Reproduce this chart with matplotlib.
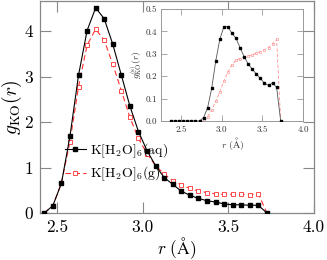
import numpy as np
import matplotlib
matplotlib.use("Agg")
import matplotlib.pyplot as plt

plt.rcParams['font.family'] = 'serif'
plt.rcParams['font.serif'] = ['cmr10', 'DejaVu Serif']
plt.rcParams['mathtext.fontset'] = 'cm'
plt.rcParams['axes.formatter.use_mathtext'] = True

# main panel data
r_main = [2.425, 2.475, 2.525, 2.575, 2.625, 2.675, 2.725, 2.775, 2.825, 2.875,
          2.925, 2.975, 3.025, 3.075, 3.125, 3.175, 3.225, 3.275, 3.325, 3.375,
          3.425, 3.475, 3.525, 3.575, 3.625, 3.675, 3.725]
g_aq = [0.0, 0.16, 0.65, 1.69, 3.03, 4.01, 4.51, 4.27, 3.71, 3.03,
        2.35, 1.79, 1.37, 1.04, 0.78, 0.63, 0.48, 0.39, 0.32, 0.27,
        0.24, 0.20, 0.18, 0.18, 0.17, 0.17, 0.0]
g_g = [0.0, 0.16, 0.66, 1.57, 2.78, 3.69, 4.04, 3.80, 3.27, 2.69,
       2.10, 1.64, 1.30, 1.04, 0.86, 0.71, 0.62, 0.54, 0.48, 0.45,
       0.42, 0.41, 0.41, 0.41, 0.40, 0.42, 0.0]

# inset data
r_in = [2.375, 2.425, 2.475, 2.525, 2.575, 2.625, 2.675, 2.725, 2.775, 2.825,
        2.875, 2.925, 2.975, 3.025, 3.075, 3.125, 3.175, 3.225, 3.275, 3.325,
        3.375, 3.425, 3.475, 3.525, 3.575, 3.625, 3.675, 3.725]
gs_aq = [0, 0, 0, 0, 0, 0, 0, 0, 0.015, 0.06,
         0.146, 0.269, 0.365, 0.421, 0.421, 0.391, 0.369, 0.327, 0.287, 0.254,
         0.231, 0.21, 0.19, 0.168, 0.159, 0.17, 0.15, 0.0]
gs_g = [0, 0, 0, 0, 0, 0, 0, 0, 0.005, 0.02,
        0.05, 0.088, 0.13, 0.178, 0.218, 0.252, 0.272, 0.279, 0.285, 0.29,
        0.296, 0.302, 0.31, 0.318, 0.328, 0.345, 0.365, 0.0]

labels = [r'$\mathrm{K[H_2O]_6(aq)}$', r'$\mathrm{K[H_2O]_6(g)}$']
red = '#ff3030'
grey = '#888888'

fig = plt.figure(figsize=(3.27, 2.60), dpi=100)
ax = fig.add_axes([40/327, 1-213/260, (314-40)/327, (213-1)/260])
ax.plot(r_main, g_aq, '-', color='black', lw=0.8, marker='s', ms=2.8,
        mfc='black', mec='black', label=labels[0], zorder=3)
ax.plot(r_main, g_g, '--', color=red, lw=0.8, dashes=(5, 3), marker='s', ms=3.0,
        mfc='white', mec=red, mew=0.6, label=labels[1], zorder=2)
ax.set_xlim(2.4, 4.0)
ax.set_ylim(0, 4.66)
ax.set_xticks([2.5, 3.0, 3.5, 4.0])
ax.set_xticklabels(['2.5', '3.0', '3.5', '4.0'])
ax.set_yticks([0, 1, 2, 3, 4])
ax.set_yticklabels(['0', '1', '2', '3', '4'])
ax.tick_params(direction='in', top=True, right=True, length=8, width=0.8,
               color=grey, labelsize=12.5, pad=5)
for s in ax.spines.values():
    s.set_color(grey)
    s.set_linewidth(0.9)
ax.set_xlabel(r'$r\ (\mathrm{\AA})$', fontsize=12.5, labelpad=0)
ax.set_ylabel(r'$g_{\mathrm{KO}}(r)$', fontsize=14, labelpad=0)
ax.legend(loc='lower left', bbox_to_anchor=(0.06, 0.10), frameon=False,
          fontsize=10, handlelength=1.5, handletextpad=0.35, labelspacing=0.35,
          borderaxespad=0.2)

ins = fig.add_axes([161/327, 1-121/260, (303-161)/327, (121-9)/260])
ins.plot(r_in, gs_aq, '-', color='#555555', lw=0.6, marker='s', ms=1.6,
         mfc='black', mec='black', zorder=3)
ins.plot(r_in, gs_g, '--', color='#ff9090', lw=0.6, dashes=(4, 2.5), marker='s',
         ms=1.8, mfc='white', mec='#ff8080', mew=0.4, zorder=2)
ins.set_xlim(2.25, 4.0)
ins.set_ylim(0, 0.5)
ins.set_xticks([2.5, 3.0, 3.5, 4.0])
ins.set_xticklabels(['2.5', '3.0', '3.5', '4.0'])
ins.set_yticks([0.0, 0.1, 0.2, 0.3, 0.4, 0.5])
ins.set_yticklabels(['0.0', '0.1', '0.2', '0.3', '0.4', '0.5'])
ins.tick_params(direction='in', top=True, right=True, length=4, width=0.6,
                color='#999999', labelsize=6.5, pad=3, labelcolor='#333333')
for s in ins.spines.values():
    s.set_color('#999999')
    s.set_linewidth(0.7)
ins.set_xlabel(r'$r\ (\mathrm{\AA})$', fontsize=7, labelpad=1, color='#333333')
ins.set_ylabel(r'$g^{(\mathrm{s})}_{\mathrm{KO}}(r)$', fontsize=7, labelpad=1,
               color='#333333')

fig.savefig('out.png', dpi=100)
